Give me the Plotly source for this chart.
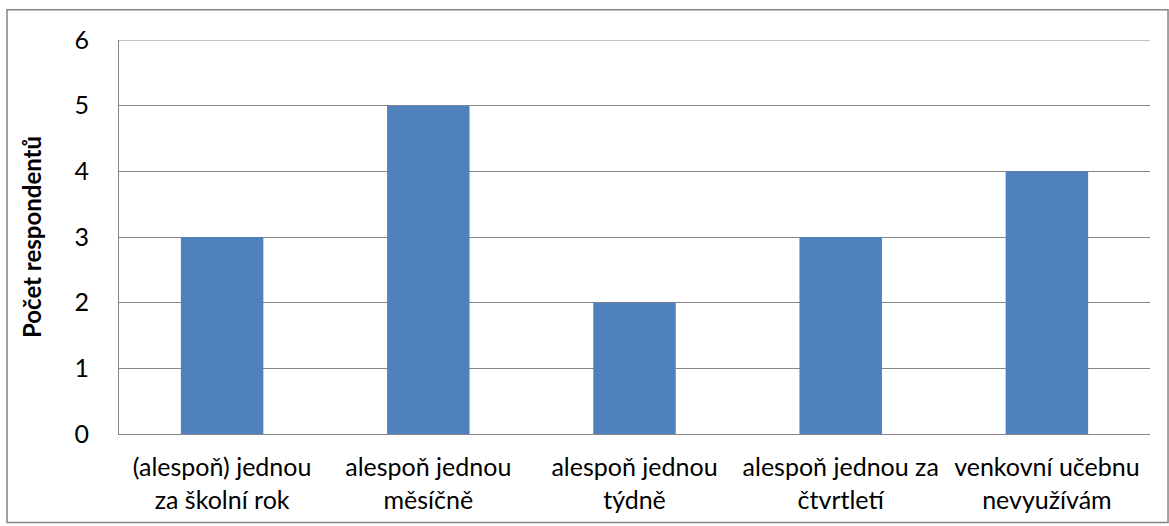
import plotly.graph_objects as go

# Survey responses: how often the outdoor classroom is used
categories = [
    "(alespoň) jednou<br>za školní rok",
    "alespoň jednou<br>měsíčně",
    "alespoň jednou<br>týdně",
    "alespoň jednou za<br>čtvrtletí",
    "venkovní učebnu<br>nevyužívám",
]
respondents = [3, 5, 2, 3, 4]
y_ticks = [0, 1, 2, 3, 4, 5, 6]
y_max = 6

BAR_COLOR = "#4F81BD"
LINE_COLOR = "#868686"
FONT = "Lato, 'Open Sans', sans-serif"

fig = go.Figure(
    go.Bar(
        x=categories,
        y=respondents,
        marker=dict(color=BAR_COLOR, line=dict(width=0)),
        hoverinfo="x+y",
    )
)

fig.update_layout(
    width=1169,
    height=526,
    margin=dict(l=119, r=19, t=40, b=90),
    paper_bgcolor="white",
    plot_bgcolor="white",
    bargap=0.6,
    showlegend=False,
    font=dict(family=FONT, size=25, color="#000000"),
)

fig.update_xaxes(
    showline=True,
    linecolor=LINE_COLOR,
    linewidth=1,
    mirror=False,
    showgrid=False,
    ticks="",
    ticklabelstandoff=11,
    tickfont=dict(family=FONT, size=25, color="#000000"),
)

fig.update_yaxes(
    range=[0, y_max],
    tickvals=y_ticks,
    showline=True,
    linecolor=LINE_COLOR,
    linewidth=1,
    showgrid=True,
    gridcolor=LINE_COLOR,
    gridwidth=1,
    zeroline=False,
    ticks="",
    ticklabelstandoff=24,
    tickfont=dict(family=FONT, size=25, color="#000000"),
    title=dict(
        text="<b>Počet respondentů</b>",
        font=dict(family=FONT, size=24, color="#000000"),
        standoff=26,
    ),
)

# Top gridline at the axis maximum (sits on the plot edge)
fig.add_shape(
    type="line",
    xref="paper",
    yref="y",
    x0=0,
    x1=1,
    y0=y_max,
    y1=y_max,
    line=dict(color=LINE_COLOR, width=1),
    layer="below",
)

# Chart-area frame
fig.add_shape(
    type="rect",
    xref="paper",
    yref="paper",
    x0=-0.1086,
    x1=1.0175,
    y0=-0.2247,
    y1=1.077,
    line=dict(color=LINE_COLOR, width=1.5),
    fillcolor="rgba(0,0,0,0)",
    layer="below",
)

fig.write_html("out.html")
